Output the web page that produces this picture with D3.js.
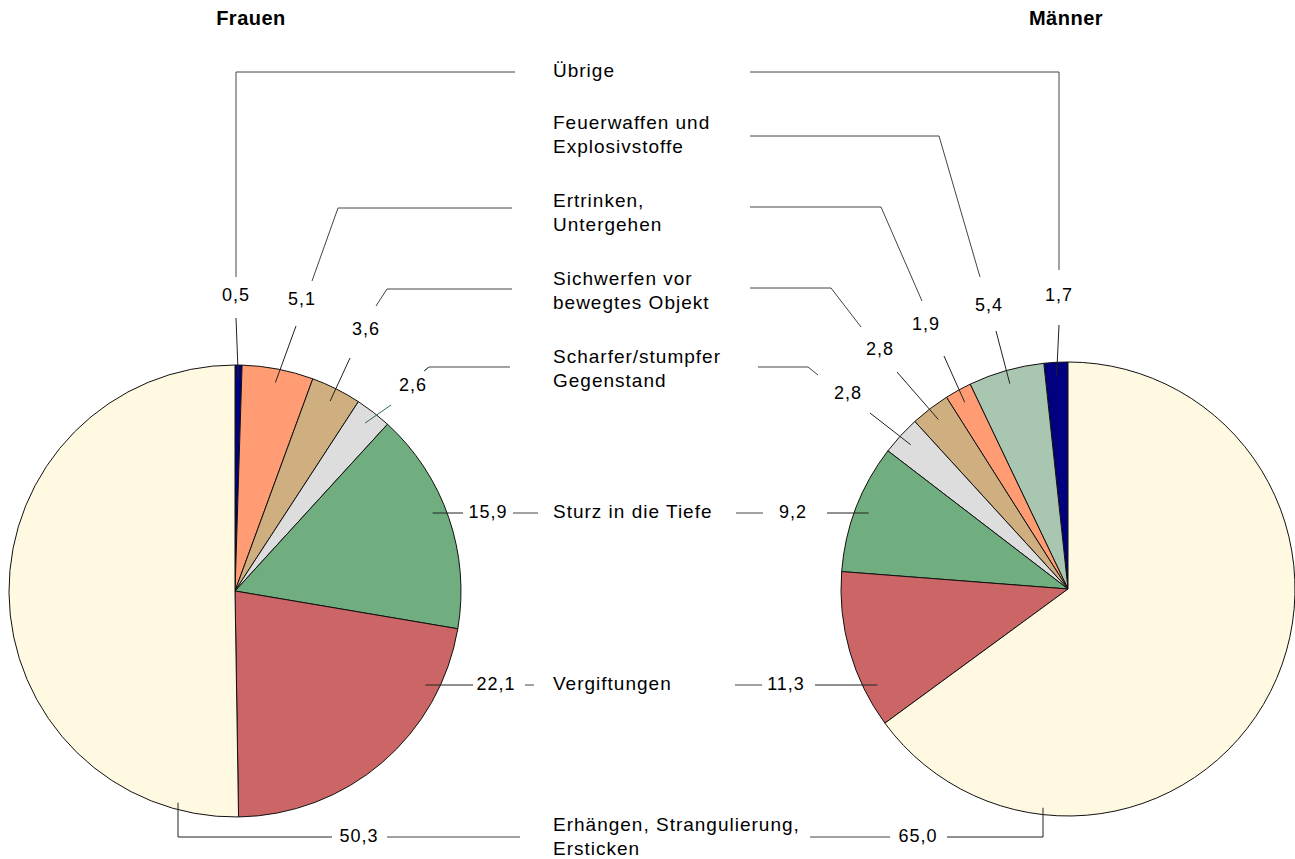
<!DOCTYPE html>
<html>
<head>
<meta charset="utf-8">
<script src="https://cdn.jsdelivr.net/npm/d3@7"></script>
<style>
  body { margin: 0; background: #fff; }
  svg text { font-family: "Liberation Sans", Arial, sans-serif; fill: #000; }
</style>
</head>
<body>
<svg width="1295" height="859"></svg>
<script>
// categories, top to bottom as listed in the middle column
var categories = ["Übrige", "Feuerwaffen und Explosivstoffe", "Ertrinken, Untergehen",
    "Sichwerfen vor bewegtes Objekt", "Scharfer/stumpfer Gegenstand",
    "Sturz in die Tiefe", "Vergiftungen", "Erhängen, Strangulierung, Ersticken"];
var labelLines = [["Übrige"], ["Feuerwaffen und", "Explosivstoffe"], ["Ertrinken,", "Untergehen"],
    ["Sichwerfen vor", "bewegtes Objekt"], ["Scharfer/stumpfer", "Gegenstand"],
    ["Sturz in die Tiefe"], ["Vergiftungen"], ["Erhängen, Strangulierung,", "Ersticken"]];
var frauen = [0.5, 0, 5.1, 3.6, 2.6, 15.9, 22.1, 50.3];
var maenner = [1.7, 5.4, 1.9, 2.8, 2.8, 9.2, 11.3, 65.0];
var colors = ["#000080", "#a9c6b1", "#ff9c73", "#cfaf7f", "#dddddd", "#70ad7f", "#cc6666", "#fff9e1"];

const svg = d3.select("svg");
const fmt = v => d3.format(".1f")(v).replace(".", ",");

// layout of the middle column (first line y of each category)
const labelX = 553, lineH = 24;
const labelY = [72, 124, 202, 280, 358, 513, 685, 826];

// leader layout: value label position, outer polyline, inner polyline (end computed on pie)
const leftLayout = [
  {v: [236, 296], outer: [[515, 72], [236, 72], [236, 277]], inner: [[236, 318]], end: "mid"},
  null,
  {v: [302, 300], outer: [[512, 208], [338, 208], [312, 281]], inner: [[296, 326]], end: "mid"},
  {v: [366, 330], outer: [[512, 289], [387, 289], [376, 306]], inner: [[350, 358]], end: "mid"},
  {v: [413, 386], outer: [[510, 367], [429, 367], [424, 371]], inner: [[391, 405]], end: "mid", teal: true},
  {v: [488, 513], outer: [[538, 513], [513, 513]], inner: [[463, 513]], end: "h"},
  {v: [496, 685], outer: [[534, 685], [525, 685]], inner: [[473, 685]], end: "h"},
  {v: [359, 837], outer: [[520, 837], [387, 837]], inner: [[332, 837], [178, 837]], end: "v"}
];
const rightLayout = [
  {v: [1059, 296], outer: [[750, 72], [1059, 72], [1059, 270]], inner: [[1059, 325]], end: "mid"},
  {v: [989, 306], outer: [[750, 136], [939, 136], [980, 277]], inner: [[996, 331]], end: "mid"},
  {v: [926, 325], outer: [[750, 207], [881, 207], [922, 301]], inner: [[944, 356]], end: "mid"},
  {v: [880, 350], outer: [[750, 288], [831, 288], [861, 327]], inner: [[897, 372]], end: "mid"},
  {v: [848, 394], outer: [[758, 367], [808, 367], [818, 375]], inner: [[870, 413]], end: "mid"},
  {v: [793, 513], outer: [[736, 513], [763, 513]], inner: [[827, 513]], end: "h"},
  {v: [786, 685], outer: [[735, 685], [762, 685]], inner: [[815, 685]], end: "h"},
  {v: [918, 837], outer: [[810, 837], [890, 837]], inner: [[947, 837], [1043, 837]], end: "v"}
];

function drawPie(values, cx, cy, r, clockwise, layout, title, titleX) {
  const pie = d3.pie().sort(null).value(d => d)
      .startAngle(0).endAngle(clockwise ? 2 * Math.PI : -2 * Math.PI);
  const arcs = pie(values);
  const arc = d3.arc().innerRadius(0).outerRadius(r);
  const g = svg.append("g").attr("transform", `translate(${cx},${cy})`);

  g.selectAll("path")
    .data(arcs.filter(d => d.value > 0))
    .enter().append("path")
    .attr("d", arc)
    .attr("fill", d => colors[d.index])
    .attr("stroke", "#111")
    .attr("stroke-width", 1);

  svg.append("text")
    .attr("x", titleX).attr("y", 20)
    .attr("text-anchor", "middle").attr("dominant-baseline", "middle")
    .attr("font-size", 20).attr("font-weight", "bold").attr("letter-spacing", 0.5)
    .text(title);

  const k = 0.94 * r;
  const line = d3.line();
  arcs.forEach((d, i) => {
    const L = layout[i];
    if (!L || d.value <= 0) return;
    // end point on the slice
    const last = L.inner[L.inner.length - 1];
    let end;
    if (L.end === "mid") {
      const a = (d.startAngle + d.endAngle) / 2;
      end = [cx + Math.sin(a) * k, cy - Math.cos(a) * k];
    } else if (L.end === "h") {
      const dy = last[1] - cy;
      const dx = Math.sqrt(k * k - dy * dy);
      end = [last[0] < cx ? cx - dx : cx + dx, last[1]];
    } else {
      const kk = 0.97 * r;
      const dx = last[0] - cx;
      end = [last[0], cy + Math.sqrt(kk * kk - dx * dx)];
    }
    svg.append("path")
      .attr("d", line(L.outer))
      .attr("fill", "none").attr("stroke", "#444")
      .attr("stroke-width", 1);
    if (L.teal) {
      svg.append("path")
        .attr("d", line(L.outer.slice(-2)))
        .attr("fill", "none").attr("stroke", "#2f6363")
        .attr("stroke-width", 1);
    }
    svg.append("path")
      .attr("d", line(L.inner.concat([end])))
      .attr("fill", "none").attr("stroke", L.teal ? "#2f6363" : "#222")
      .attr("stroke-width", 1);
    svg.append("text")
      .attr("x", L.v[0]).attr("y", L.v[1])
      .attr("text-anchor", "middle").attr("dominant-baseline", "middle")
      .attr("font-size", 18).attr("letter-spacing", 1)
      .text(fmt(d.value));
  });
}

drawPie(frauen, 235, 591, 226, true, leftLayout, "Frauen", 251);
drawPie(maenner, 1068, 589, 227, false, rightLayout, "Männer", 1066);

// middle column of category names
categories.forEach((c, i) => {
  const t = svg.append("text")
    .attr("x", labelX).attr("y", labelY[i])
    .attr("dominant-baseline", "middle")
    .attr("font-size", 19).attr("letter-spacing", 1);
  labelLines[i].forEach((ln, j) => {
    t.append("tspan").attr("x", labelX).attr("dy", j === 0 ? 0 : lineH).text(ln);
  });
});
</script>
</body>
</html>
